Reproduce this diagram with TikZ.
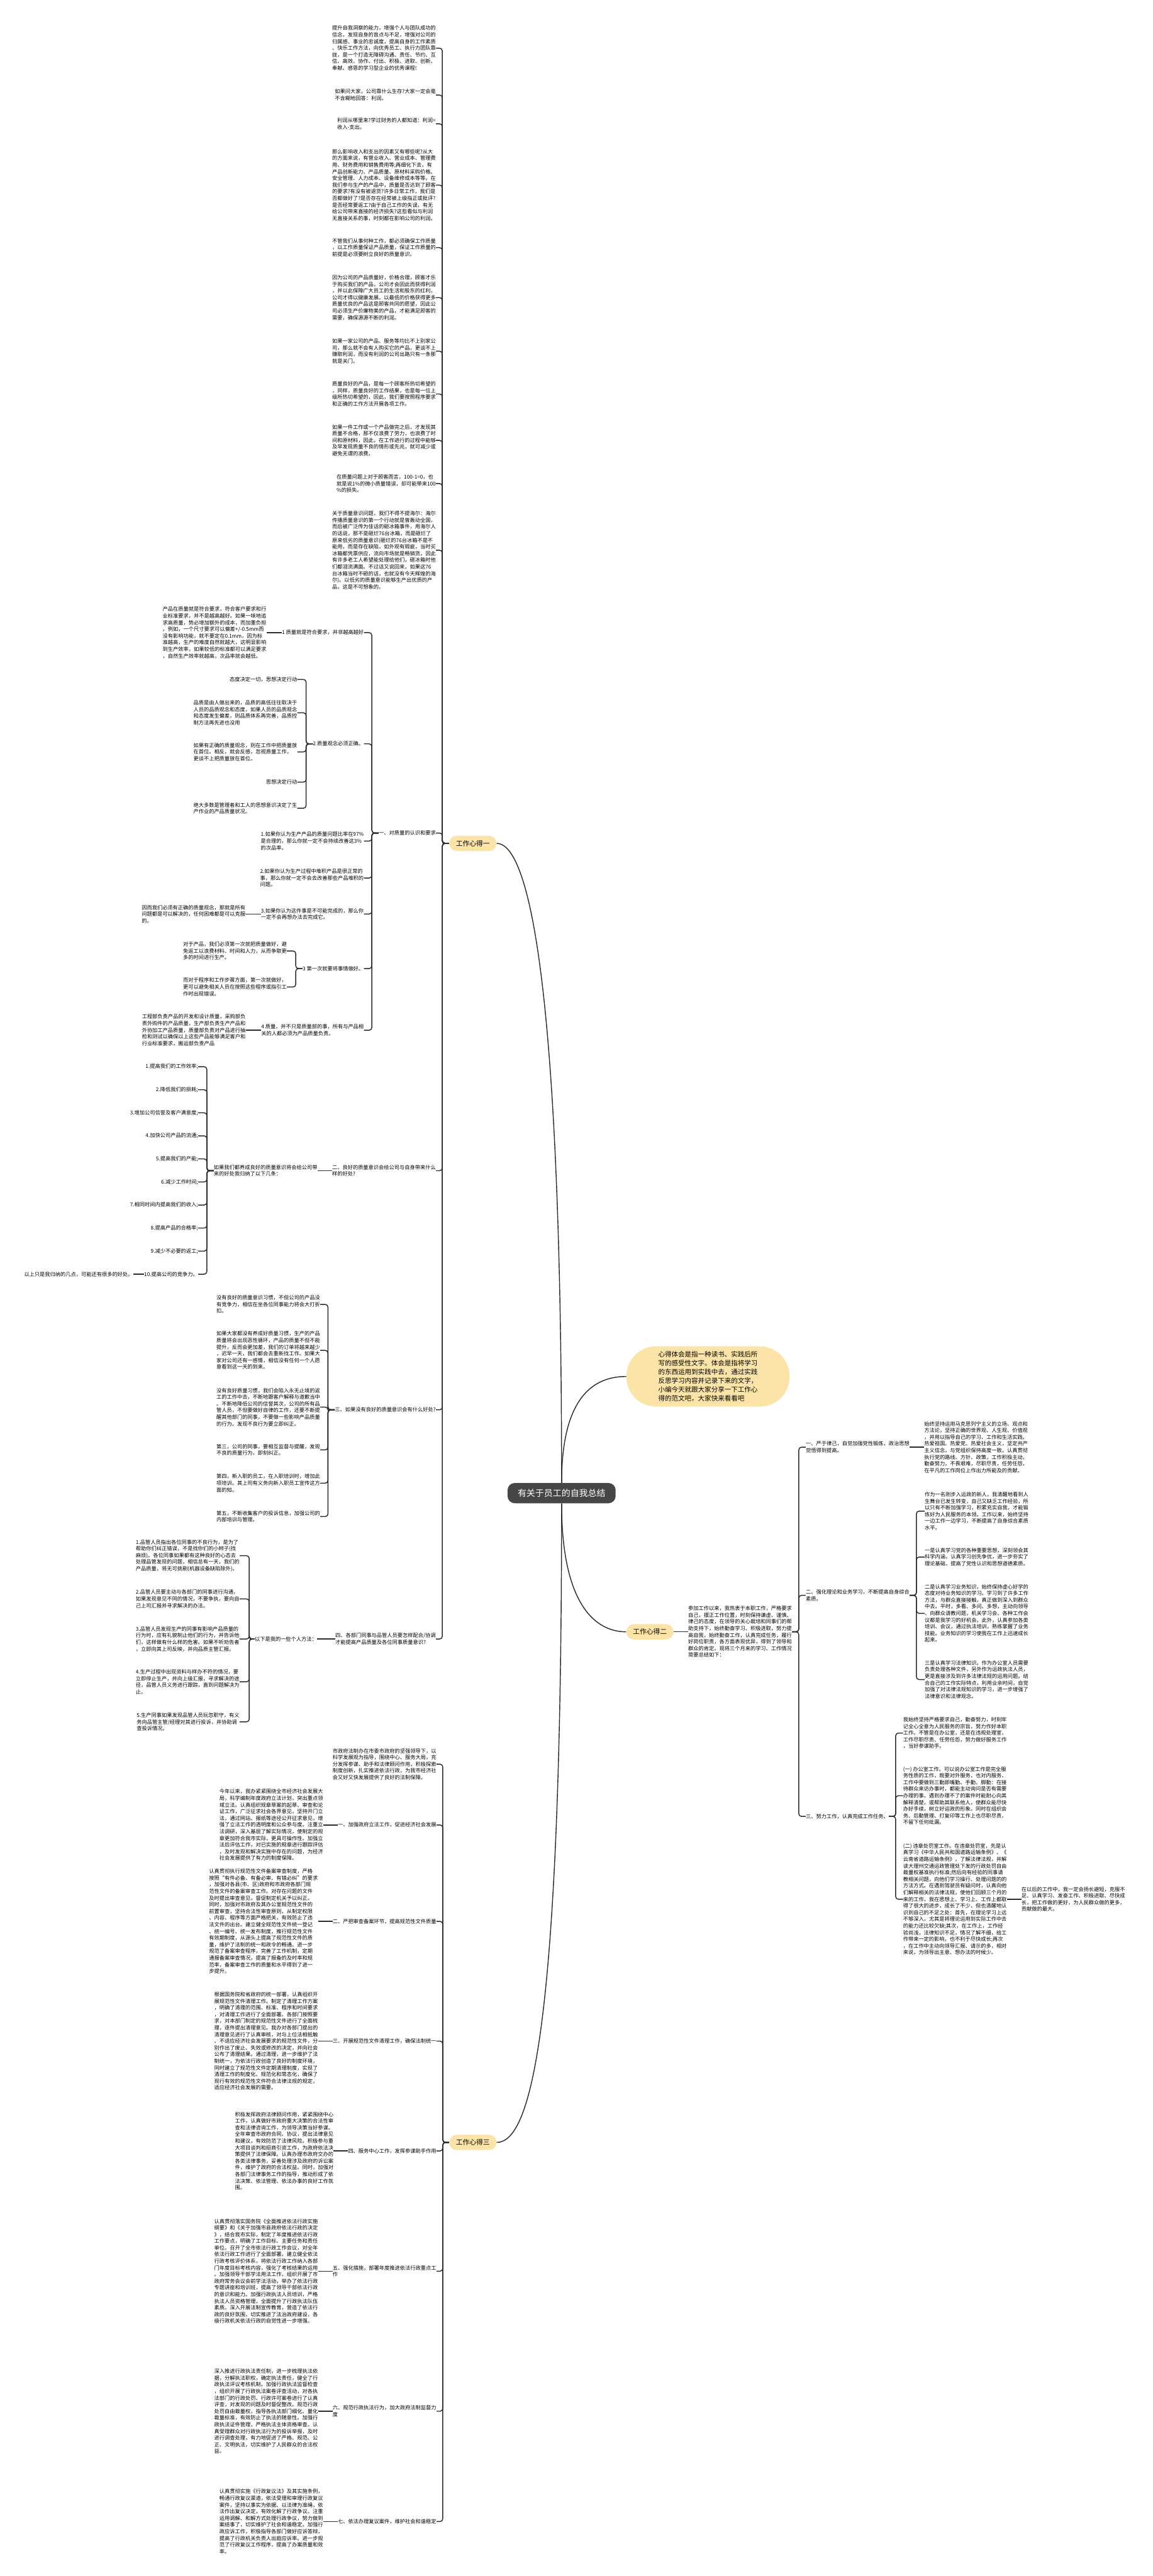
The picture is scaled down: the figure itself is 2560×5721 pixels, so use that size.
\documentclass[tikz,border=0pt]{standalone}
\usepackage{fontspec}
\setmainfont{Noto Sans CJK SC}
\usetikzlibrary{
  positioning, % For relative placement
  calc
}
\definecolor{topicyellow}{HTML}{FCE4A8}
\definecolor{rootgray}{HTML}{464646}
\definecolor{linkgray}{HTML}{2B2B2B}
\newcommand\fsm{\fontsize{5.75pt}{7.4pt}\selectfont}
\newcommand\fbub{\fontsize{7.35pt}{9.8pt}\selectfont}
\newcommand\ftop{\fontsize{7.5pt}{9pt}\selectfont}
\newcommand\froot{\fontsize{9.75pt}{12pt}\selectfont}

\begin{document}
\begin{tikzpicture}[
    x=0.5pt, y=-0.5pt, % one unit = one pixel of the reference
    link/.style={draw=linkgray, line width=1pt, rounded corners=3pt}, % connectors
    leaf/.style={inner sep=0pt, align=left, font=\fsm}, % plain text
    topic/.style={fill=topicyellow, rounded corners=8.5pt, minimum width=52.5pt,
      minimum height=17pt, inner sep=0pt, font=\ftop},
    root/.style={fill=rootgray, text=white, rounded corners=8pt, minimum width=120pt,
      minimum height=22.5pt, font=\froot},
    bubble/.style={fill=topicyellow, rounded corners=33pt, minimum width=181pt,
      minimum height=67pt, align=left, font=\fbub},
  ]

  % Rahmen
  \fill[white] (0,0) rectangle (2560,5721);
  \useasboundingbox (0,0) rectangle (2560,5721);

  % Mitte
  \node[root] (root) at (1247,3316) {有关于员工的自我总结};
  \node[bubble] (bub) at (1572,3057) {心得体会是指一种读书、实践后所\\写的感受性文字。体会是指将学习\\的东西运用到实践中去，通过实践\\反思学习内容并记录下来的文字，\\小编今天就跟大家分享一下工作心\\得的范文吧，大家快来看看吧};
  \node[topic] (w1) at (1050,1873) {工作心得一};
  \node[topic] (w2) at (1443,3624) {工作心得二};
  \node[topic] (w3) at (1050,4758) {工作心得三};

  \draw[link] (root.north) .. controls (1247,2150) and (1170,1873) .. (w1.east);
  \draw[link] (root.north) .. controls (1247,3100) and (1320,3057) .. (bub.west);
  \draw[link] (root.south) .. controls (1247,3560) and (1320,3624) .. (w2.west);
  \draw[link] (root.south) .. controls (1247,4500) and (1180,4758) .. (w3.east);

  % ---------------- 工作心得一 ----------------
  \node[leaf, anchor=east] (t1) at (968,107) {提升自我洞察的能力，增强个人与团队成功的\\信念，发现自身的盲点与不足，增强对公司的\\归属感、事业的忠诚度，提高自身的工作素质\\、快乐工作方法，向优秀员工、执行力团队靠\\拢，是一个打造无障碍沟通、责任、节约、互\\信、高效、协作、付出、积极、进取、创新、\\奉献、感恩的学习型企业的优秀课程!};
  \node[leaf, anchor=east] (t2) at (968,211) {如果问大家，公司靠什么生存?大家一定会毫\\不含糊地回答：利润。};
  \node[leaf, anchor=east] (t3) at (968,275) {利润从哪里来?学过财务的人都知道：利润=\\收入-支出。};
  \node[leaf, anchor=east] (t4) at (968,411) {那么影响收入和支出的因素又有哪些呢?从大\\的方面来说，有营业收入、营业成本、管理费\\用、财务费用和销售费用等;再细化下去，有\\产品创新能力、产品质量、原材料采购价格、\\安全管理、人力成本、设备维修成本等等。在\\我们参与生产的产品中，质量是否达到了顾客\\的要求?有没有被退货?许多日常工作，我们是\\否都做好了?是否存在经常被上级指正或批评?\\是否经常要返工?由于自己工作的失误，有无\\给公司带来直接的经济损失?这些看似与利润\\无直接关系的事，时刻都在影响公司的利润。};
  \node[leaf, anchor=east] (t5) at (968,550) {不管我们从事何种工作，都必须确保工作质量\\，以工作质量保证产品质量，保证工作质量的\\前提是必须要树立良好的质量意识。};
  \node[leaf, anchor=east] (t6) at (968,661) {因为公司的产品质量好，价格合理，顾客才乐\\于购买我们的产品，公司才会因此而获得利润\\，并以此保障广大员工的生活和股东的红利，\\公司才得以健康发展。以最低的价格获得更多\\质量优良的产品这是顾客共同的愿望，因此公\\司必须生产价廉物美的产品，才能满足顾客的\\需要，确保源源不断的利润。};
  \node[leaf, anchor=east] (t7) at (968,780) {如果一家公司的产品、服务等均比不上别家公\\司，那么就不会有人购买它的产品，更谈不上\\赚取利润，而没有利润的公司出路只有一条那\\就是关门。};
  \node[leaf, anchor=east] (t8) at (968,875) {质量良好的产品，是每一个顾客所热切希望的\\，同样，质量良好的工作结果，也是每一位上\\级所热切希望的，因此，我们要按照程序要求\\和正确的工作方法开展各项工作。};
  \node[leaf, anchor=east] (t9) at (968,978) {如果一件工作或一个产品做完之后，才发现其\\质量不合格，那不仅浪费了劳力，也浪费了时\\间和原材料，因此，在工作进行的过程中能够\\及早发现质量不良的情形或先兆，就可减少或\\避免无谓的浪费。};
  \node[leaf, anchor=east] (t10) at (968,1074) {在质量问题上对于顾客而言，100-1=0，也\\就是说1\%的微小质量错误，却可能带来100\\\%的损失。};
  \node[leaf, anchor=east] (t11) at (968,1222) {关于质量意识问题，我们不得不提海尔：海尔\\传播质量意识的第一个行动就是曾轰动全国，\\而后被广泛传为佳话的砸冰箱事件，用海尔人\\的话说，那不是砸烂76台冰箱，而是砸烂了\\原来低劣的质量意识(砸烂的76台冰箱不是不\\能用，而是存在缺陷，如外观有瑕疵，当时买\\冰箱都凭票供应，流向市场就是畅销货，因此\\有许多老工人希望能处理给他们，砸冰箱时他\\们都泪流满面。不过话又说回来，如果这76\\台冰箱当时不砸的话，也就没有今天辉煌的海\\尔)。以低劣的质量意识能够生产出优质的产\\品，这是不可想象的。};
  \node[leaf, anchor=east] (a1) at (968,1850) {一、对质量的认识和要求};
  \node[leaf, anchor=east] (a2) at (968,2600) {二、良好的质量意识会给公司与自身带来什么\\样的好处?};
  \node[leaf, anchor=east] (a3) at (968,3131) {三、如果没有良好的质量意识会有什么好处?};
  \node[leaf, anchor=east] (a4) at (968,3640) {四、各部门同事与品管人员要怎样配合/协调\\才能提高产品质量及各位同事质量意识?};

  \foreach \k in {t1,t2,t3,t4,t5,t6,t7,t8,t9,t10,t11,a1,a2,a3,a4}
    \draw[link] (w1.west) -- ++(-15,0) |- (\k.east);

  % 一、对质量的认识和要求
  \node[leaf, anchor=east] (q1) at (808,1405) {1 质量就是符合要求，并非越高越好};
  \node[leaf, anchor=east] (q2) at (808,1652) {2 质量观念必须正确。};
  \node[leaf, anchor=east] (q3) at (808,1868) {1.如果你认为生产产品的质量问题比率在97\%\\是合理的，那么你就一定不会持续改善这3\%\\的次品率。};
  \node[leaf, anchor=east] (q4) at (808,1950) {2.如果你认为生产过程中堆积产品是很正常的\\事，那么你就一定不会去改善那些产品堆积的\\问题。};
  \node[leaf, anchor=east] (q5) at (808,2030) {3.如果你认为这件事是不可能完成的，那么你\\一定不会再想办法去完成它。};
  \node[leaf, anchor=east] (q6) at (808,2151) {3 第一次就要将事情做好。};
  \node[leaf, anchor=east] (q7) at (808,2288) {4 质量，并不只是质量部的事，所有与产品相\\关的人都必须为产品质量负责。};
  \foreach \k in {q1,q2,q3,q4,q5,q6,q7}
    \draw[link] (a1.west) -- ++(-15,0) |- (\k.east);

  \node[leaf, left=17pt of q1] (p1) {产品在质量就是符合要求，符合客户要求和行\\业标准要求，并不是越高越好。如果一味地追\\求高质量，势必增加额外的成本，而加重负担\\。例如，一个尺寸要求可以偏差+/-0.5mm而\\没有影响功能，就不要定在0.1mm，因为标\\准越高，生产的难度自然就越大，这明显影响\\到生产效率，如果较低的标准都可以满足要求\\，自然生产效率就越高，次品率就会越低。};
  \draw[link] (q1.west) -- (p1.east);

  \node[leaf, anchor=east] (r1) at (660,1509) {态度决定一切，思想决定行动};
  \node[leaf, anchor=east] (r2) at (660,1583) {品质是由人做出来的，品质的高低往往取决于\\人员的品质观念和态度，如果人员的品质观念\\和态度发生偏差，则品质体系再完善，品质控\\制方法再先进也没用};
  \node[leaf, anchor=east] (r3) at (660,1670) {如果有正确的质量观念，则在工作中把质量放\\在首位。相反，就会反感，忽视质量工作，\\更谈不上把质量放在首位。};
  \node[leaf, anchor=east] (r4) at (660,1737) {思想决定行动};
  \node[leaf, anchor=east] (r5) at (660,1795) {绝大多数是管理者和工人的思想意识决定了生\\产作业的产品质量状况。};
  \foreach \k in {r1,r2,r3,r4,r5}
    \draw[link] (q2.west) -- ++(-15,0) |- (\k.east);

  \node[leaf, left=17pt of q5] (s1) {因而我们必须有正确的质量观念，那就是所有\\问题都是可以解决的，任何困难都是可以克服\\的。};
  \draw[link] (q5.west) -- (s1.east);

  \node[leaf, anchor=east] (s2) at (637,2112) {对于产品，我们必须第一次就把质量做好，避\\免返工以浪费材料、时间和人力，从而争取更\\多的时间进行生产。};
  \node[leaf, anchor=east] (s3) at (637,2192) {而对于程序和工作步骤方面，第一次就做好，\\更可以避免相关人员在按照这些程序或指引工\\作时出现错误。};
  \foreach \k in {s2,s3}
    \draw[link] (q6.west) -- ++(-15,0) |- (\k.east);

  \node[leaf, left=17pt of q7] (s4) {工程部负责产品的开发和设计质量，采购部负\\责外购件的产品质量，生产部负责生产产品和\\外协加工产品质量，质量部负责对产品进行抽\\检和测试以确保以上这些产品能够满足客户和\\行业标准要求，搬运部负责产品};
  \draw[link] (q7.west) -- (s4.east);

  % 二、良好的质量意识
  \node[leaf, left=16pt of a2] (g0) {如果我们都养成良好的质量意识将会给公司带\\来的好处我归纳了以下几条：};
  \draw[link] (a2.west) -- (g0.east);
  \foreach \i/\txt in {1/{1.提高我们的工作效率;}, 2/{2.降低我们的损耗;},
      3/{3.增加公司信誉及客户满意度;}, 4/{4.加快公司产品的流通;},
      5/{5.提高我们的产能;}, 6/{6.减少工作时间;},
      7/{7.相同时间内提高我们的收入;}, 8/{8.提高产品的合格率;},
      9/{9.减少不必要的返工;}, 10/{10.提高公司的竞争力。}}
  {
    \node[leaf, anchor=east] (g\i) at (440,{2369+(\i-1)*51.2}) {\txt};
    \draw[link] (g0.west) -- ++(-15,0) |- (g\i.east);
  }
  \node[leaf, left=12pt of g10] (g11) {以上只是我归纳的几点，可能还有很多的好处。};
  \draw[link] (g10.west) -- (g11.east);

  % 三、如果没有良好的质量意识
  \node[leaf, anchor=east] (c1) at (711,2897) {没有良好的质量意识习惯，不但公司的产品没\\有竞争力，相信在坐各位同事能力将会大打折\\扣。};
  \node[leaf, anchor=east] (c2) at (711,2999) {如果大家都没有养成好质量习惯，生产的产品\\质量将会出现恶性循环，产品的质量不但不能\\提升，反而会更加差，我们的订单将越来越少\\，迟早一天，我们都会去重新找工作。如果大\\家对公司还有一感情，相信没有任何一个人愿\\意看到这一天的到来。};
  \node[leaf, anchor=east] (c3) at (711,3125) {没有良好质量习惯，我们会陷入永无止境的返\\工的工作中去，不断地跟客户解释与道歉当中\\。不断地降低公司的信誉其次，公司的所有品\\管人员，不但要做好自律的工作，还要不断提\\醒其他部门的同事，不要做一些影响产品质量\\的行为。发现不良行为要立即纠正。};
  \node[leaf, anchor=east] (c4) at (711,3220) {第三，公司的同事，要相互监督与提醒，发现\\不良的质量行为，即刻纠正。};
  \node[leaf, anchor=east] (c5) at (711,3294) {第四，新入职的员工，在入职培训时，增加此\\项培训。其上司有义务向新入职员工宣传这方\\面的知。};
  \node[leaf, anchor=east] (c6) at (711,3368) {第五，不断收集客户的投诉信息，加强公司的\\内部培训与管理。};
  \foreach \k in {c1,c2,c3,c4,c5,c6}
    \draw[link] (a3.west) -- ++(-15,0) |- (\k.east);

  % 四、各部门同事与品管人员
  \node[leaf, left=20pt of a4] (m0) {以下是我的一些个人方法：};
  \draw[link] (a4.west) -- (m0.east);
  \node[leaf, anchor=east] (m1) at (532,3455) {1.品管人员指出各位同事的不良行为，是为了\\帮助你们纠正错误，不是找你们的小辫子(找\\麻烦)。各位同事如果都有这种良好的心态去\\处理品管发现的问题，相信总有一天，我们的\\产品质量，将无可挑剔(机器设备缺陷除外)。};
  \node[leaf, anchor=east] (m2) at (532,3551) {2.品管人员要主动与各部门的同事进行沟通，\\如果发现意见不同的情况，不要争执，要向自\\己上司汇报并寻求解决的办法。};
  \node[leaf, anchor=east] (m3) at (532,3640) {3.品管人员发现生产的同事有影响产品质量的\\行为时，应有礼貌制止他们的行为，并告诉他\\们，这样做有什么样的危害。如果不听劝告者\\，立即向其上司反映，并向品质主管汇报。};
  \node[leaf, anchor=east] (m4) at (532,3735) {4.生产过程中出现资料与样办不符的情况，要\\立即停止生产，并向上级汇报，寻求解决的途\\径，品管人员义务进行跟踪，直到问题解决为\\止。};
  \node[leaf, anchor=east] (m5) at (532,3824) {5.生产同事如果发现品管人员玩忽职守，有义\\务向品管主管/经理对其进行投诉，并协助调\\查投诉情况。};
  \foreach \k in {m1,m2,m3,m4,m5}
    \draw[link] (m0.west) -- ++(-12,0) |- (\k.east);

  % ---------------- 工作心得二 ----------------
  \node[leaf, right=16pt of w2] (k0) {参加工作以来，我热衷于本职工作，严格要求\\自己，摆正工作位置，时刻保持谦虚、谨慎、\\律己的态度，在领导的关心栽培和同事们的帮\\助支持下，始终勤奋学习、积极进取，努力提\\高自我，始终勤奋工作，认真完成任务，履行\\好岗位职责，各方面表现优异，得到了领导和\\群众的肯定。现将三个月来的学习、工作情况\\简要总结如下：};
  \draw[link] (w2.east) -- (k0.west);

  \node[leaf, anchor=west] (k1) at (1789,3214) {一、严于律己，自觉加强党性锻炼，政治思想\\觉悟得到提高。};
  \node[leaf, anchor=west] (k2) at (1789,3543) {二、强化理论和业务学习，不断提高自身综合\\素质。};
  \node[leaf, anchor=west] (k3) at (1789,4034) {三、努力工作，认真完成工作任务。};
  \foreach \k in {k1,k2,k3}
    \draw[link] (k0.east) -- ++(15,0) |- (\k.west);

  \node[leaf, right=16pt of k1] (n1) {始终坚持运用马克思列宁主义的立场、观点和\\方法论，坚持正确的世界观、人生观、价值观\\，并用以指导自己的学习、工作和生活实践。\\热爱祖国、热爱党、热爱社会主义，坚定共产\\主义信念，与党组织保持高度一致。认真贯彻\\执行党的路线、方针、政策，工作积极主动，\\勤奋努力，不畏艰难，尽职尽责，任劳任怨，\\在平凡的工作岗位上作出力所能及的贡献。};
  \draw[link] (k1.east) -- (n1.west);

  \node[leaf, anchor=west] (n2a) at (2053,3356) {作为一名刚步入运政的新人，我清醒地看到人\\生舞台已发生转变，自己又缺乏工作经验，所\\以只有不断加强学习，积累充实自我，才能锻\\炼好为人民服务的本领。工作以来，始终坚持\\一边工作一边学习，不断提高了自身综合素质\\水平。};
  \node[leaf, anchor=west] (n2b) at (2053,3458) {一是认真学习党的各种重要思想，深刻领会其\\科学内涵，认真学习创先争优，进一步夯实了\\理论基础，提高了党性认识和思想道德素质。};
  \node[leaf, anchor=west] (n2c) at (2053,3583) {二是认真学习业务知识，始终保持虚心好学的\\态度对待业务知识的学习。学习到了许多工作\\方法，与群众直接接触，真正做到深入到群众\\中去。平时，多看、多问、多想，主动向领导\\、向群众请教问题，机关学习会、各种工作会\\议都是我学习的好机会。此外，认真参加各类\\培训、会议，通过执法培训，熟练掌握了业务\\技能。业务知识的学习使我在工作上迅速成长\\起来。};
  \node[leaf, anchor=west] (n2d) at (2053,3730) {三是认真学习法律知识。作为办公室人员需要\\负责处理各种文件，另外作为运政执法人员，\\更是直接涉及到许多法律法规的运用问题。结\\合自己的工作实际特点，利用业余时间，自觉\\加强了对法律法规知识的学习，进一步增强了\\法律意识和法律观念。};
  \foreach \k in {n2a,n2b,n2c,n2d}
    \draw[link] (k2.east) -- ++(15,0) |- (\k.west);

  \node[leaf, anchor=west] (n3a) at (2005,3849) {我始终坚持严格要求自己，勤奋努力，时刻牢\\记全心全意为人民服务的宗旨，努力作好本职\\工作。不管是在办公室，还是在违规处理室，\\工作尽职尽责、任劳任怨，努力做好服务工作\\，当好参谋助手。};
  \node[leaf, anchor=west] (n3b) at (2005,3988) {(一) 办公室工作。可以说办公室工作是完全服\\务性质的工作，既要对外服务，也对内服务，\\工作中要做到三勤即嘴勤、手勤、脚勤：在接\\待群众来访办事时，都能主动询问是否有需要\\办理的事，遇到办理不了的案件时能耐心向其\\解释清楚，或帮助其联系他人，使群众能尽快\\办好手续，树立好运政的形象。同时在组织会\\务、后勤管理、打复印等工作上也尽职尽责，\\不留下任何纰漏。};
  \node[leaf, anchor=west] (n3c) at (2005,4218) {(二) 违章处罚室工作。在违章处罚室，先是认\\真学习《中华人民共和国道路运输条例》、《\\云南省道路运输条例》，了解法律法规，并解\\读大理州交通运政管理处下发的行政处罚自由\\裁量权基准执行标准;然后向有经验的同事请\\教相关问题，向他们学习操行、处理问题的的\\方法方式。在遇到驾驶员有疑问时，认真向他\\们解释相关的法律法规，使他们回顾三个月的\\来的工作，我在思想上、学习上、工作上都取\\得了很大的进步，成长了不少，但也清醒地认\\识到自己的不足之处：首先，在理论学习上远\\不够深入，尤其是将理论运用到实际工作中去\\的能力还比较欠缺;其次，在工作上，工作经\\验尚浅，法律知识不足，情况了解不细，给工\\作带来一定的影响，也不利于尽快成长;再次\\，在工作中主动向领导汇报、请示的多，相对\\来说，为领导出主意、想办法的时候少。};
  \foreach \k in {n3a,n3b,n3c}
    \draw[link] (k3.east) -- ++(15,0) |- (\k.west);

  \node[leaf, right=16pt of n3c] (n4) {在以后的工作中，我一定会扬长避短，克服不\\足、认真学习、发奋工作、积极进取、尽快成\\长，把工作做的更好，为人民群众做的更多，\\贡献做的最大。};
  \draw[link] (n3c.east) -- (n4.west);

  % ---------------- 工作心得三 ----------------
  \node[leaf, anchor=east] (h0) at (969,3918) {市政府法制办在市委市政府的坚强领导下，以\\科学发展观为指导，围绕中心、服务大局，充\\分发挥参谋、助手和法律顾问作用，积极探索\\制度创新，扎实推进依法行政，为我市经济社\\会又好又快发展提供了良好的法制保障。};
  \node[leaf, anchor=east] (h1) at (969,4053) {一、加强政府立法工作，促进经济社会发展};
  \node[leaf, anchor=east] (h2) at (969,4267) {二、严把审查备案环节，提高规范性文件质量};
  \node[leaf, anchor=east] (h3) at (969,4533) {三、开展规范性文件清理工作，确保法制统一};
  \node[leaf, anchor=east] (h4) at (969,4777) {四、服务中心工作，发挥参谋助手作用};
  \node[leaf, anchor=east] (h5) at (969,5044) {五、强化措施，部署年度推进依法行政重点工\\作};
  \node[leaf, anchor=east] (h6) at (969,5355) {六、规范行政执法行为，加大政府法制监督力\\度};
  \node[leaf, anchor=east] (h7) at (969,5600) {七、依法办理复议案件，维护社会和谐稳定};
  \foreach \k in {h0,h1,h2,h3,h4,h5,h6,h7}
    \draw[link] (w3.west) -- ++(-14,0) |- (\k.east);

  \node[leaf, left=16pt of h1] (e1) {今年以来，我办紧紧围绕全市经济社会发展大\\局，科学编制年度政府立法计划，突出重点领\\域立法。认真组织规章草案的起草、审查和论\\证工作，广泛征求社会各界意见，坚持开门立\\法，通过网站、报纸等途径公开征求意见，增\\强了立法工作的透明度和公众参与度。注重立\\法调研，深入基层了解实际情况，使制定的规\\章更加符合我市实际，更具可操作性。加强立\\法后评估工作，对已实施的规章进行跟踪评估\\，及时发现和解决实施中存在的问题，为经济\\社会发展提供了有力的制度保障。};
  \node[leaf, left=16pt of h2] (e2) {认真贯彻执行规范性文件备案审查制度，严格\\按照“有件必备、有备必审、有错必纠”的要求\\，加强对各县(市、区)政府和市政府各部门规\\范性文件的备案审查工作。对存在问题的文件\\及时提出审查意见，督促制定机关予以纠正。\\同时，加强对市政府及其办公室规范性文件的\\前置审查，坚持合法性审查原则，从制定权限\\、内容、程序等方面严格把关，有效防止了违\\法文件的出台。建立健全规范性文件统一登记\\、统一编号、统一发布制度，推行规范性文件\\有效期制度，从源头上提高了规范性文件的质\\量，维护了法制的统一和政令的畅通。进一步\\规范了备案审查程序，完善了工作机制，定期\\通报备案审查情况，提高了报备的及时率和规\\范率，备案审查工作的质量和水平得到了进一\\步提升。};
  \node[leaf, left=16pt of h3] (e3) {根据国务院和省政府的统一部署，认真组织开\\展规范性文件清理工作。制定了清理工作方案\\，明确了清理的范围、标准、程序和时间要求\\，对清理工作进行了全面部署。各部门按照要\\求，对本部门制定的规范性文件进行了全面梳\\理，逐件提出清理意见。我办对各部门提出的\\清理意见进行了认真审核，对与上位法相抵触\\、不适应经济社会发展要求的规范性文件，分\\别作出了废止、失效或修改的决定，并向社会\\公布了清理结果。通过清理，进一步维护了法\\制统一，为依法行政创造了良好的制度环境，\\同时建立了规范性文件定期清理制度，实现了\\清理工作的制度化、规范化和常态化，确保了\\现行有效的规范性文件符合法律法规的规定，\\适应经济社会发展的需要。};
  \node[leaf, left=16pt of h4] (e4) {积极发挥政府法律顾问作用，紧紧围绕中心\\工作，认真做好市政府重大决策的合法性审\\查和法律咨询工作，为领导决策当好参谋。\\全年审查市政府合同、协议，提出法律意见\\和建议，有效防范了法律风险。积极参与重\\大项目谈判和招商引资工作，为政府依法决\\策提供了法律保障。认真办理市政府交办的\\各类法律事务，妥善处理涉及政府的诉讼案\\件，维护了政府的合法权益。同时，加强对\\各部门法律事务工作的指导，推动形成了依\\法决策、依法管理、依法办事的良好工作氛\\围。};
  \node[leaf, left=16pt of h5] (e5) {认真贯彻落实国务院《全面推进依法行政实施\\纲要》和《关于加强市县政府依法行政的决定\\》，结合我市实际，制定了年度推进依法行政\\工作要点，明确了工作目标、主要任务和责任\\单位。召开了全市依法行政工作会议，对全年\\依法行政工作进行了全面部署。建立健全依法\\行政考核评价体系，将依法行政工作纳入各部\\门年度目标考核内容，强化了考核结果的运用\\。加强领导干部学法用法工作，组织开展了市\\政府常务会议会前学法活动，举办了依法行政\\专题讲座和培训班，提高了领导干部依法行政\\的意识和能力。加强行政执法人员培训，严格\\执法人员资格管理，全面提升了行政执法队伍\\素质。深入开展法制宣传教育，营造了依法行\\政的良好氛围，切实推进了法治政府建设，各\\级行政机关依法行政的自觉性进一步增强。};
  \node[leaf, left=16pt of h6] (e6) {深入推进行政执法责任制，进一步梳理执法依\\据，分解执法职权，确定执法责任，健全了行\\政执法评议考核机制。加强行政执法监督检查\\，组织开展了行政执法案卷评查活动，对各执\\法部门的行政处罚、行政许可案卷进行了认真\\评查，对发现的问题及时督促整改。规范行政\\处罚自由裁量权，指导各执法部门细化、量化\\裁量标准，有效防止了执法的随意性。加强行\\政执法证件管理，严格执法主体资格审查。认\\真受理群众对行政执法行为的投诉举报，及时\\进行调查处理，有力地促进了严格、规范、公\\正、文明执法，切实维护了人民群众的合法权\\益。};
  \node[leaf, left=16pt of h7] (e7) {认真贯彻实施《行政复议法》及其实施条例，\\畅通行政复议渠道，依法受理和审理行政复议\\案件，坚持以事实为依据、以法律为准绳，依\\法作出复议决定，有效化解了行政争议。注重\\运用调解、和解方式处理行政争议，努力做到\\案结事了，切实维护了社会和谐稳定。加强行\\政应诉工作，积极指导各部门做好应诉答辩，\\提高了行政机关负责人出庭应诉率。进一步规\\范了行政复议工作程序，提高了办案质量和效\\率。};
  \foreach \k in {1,...,7}
    \draw[link] (h\k.west) -- (e\k.east);
\end{tikzpicture}
\end{document}
